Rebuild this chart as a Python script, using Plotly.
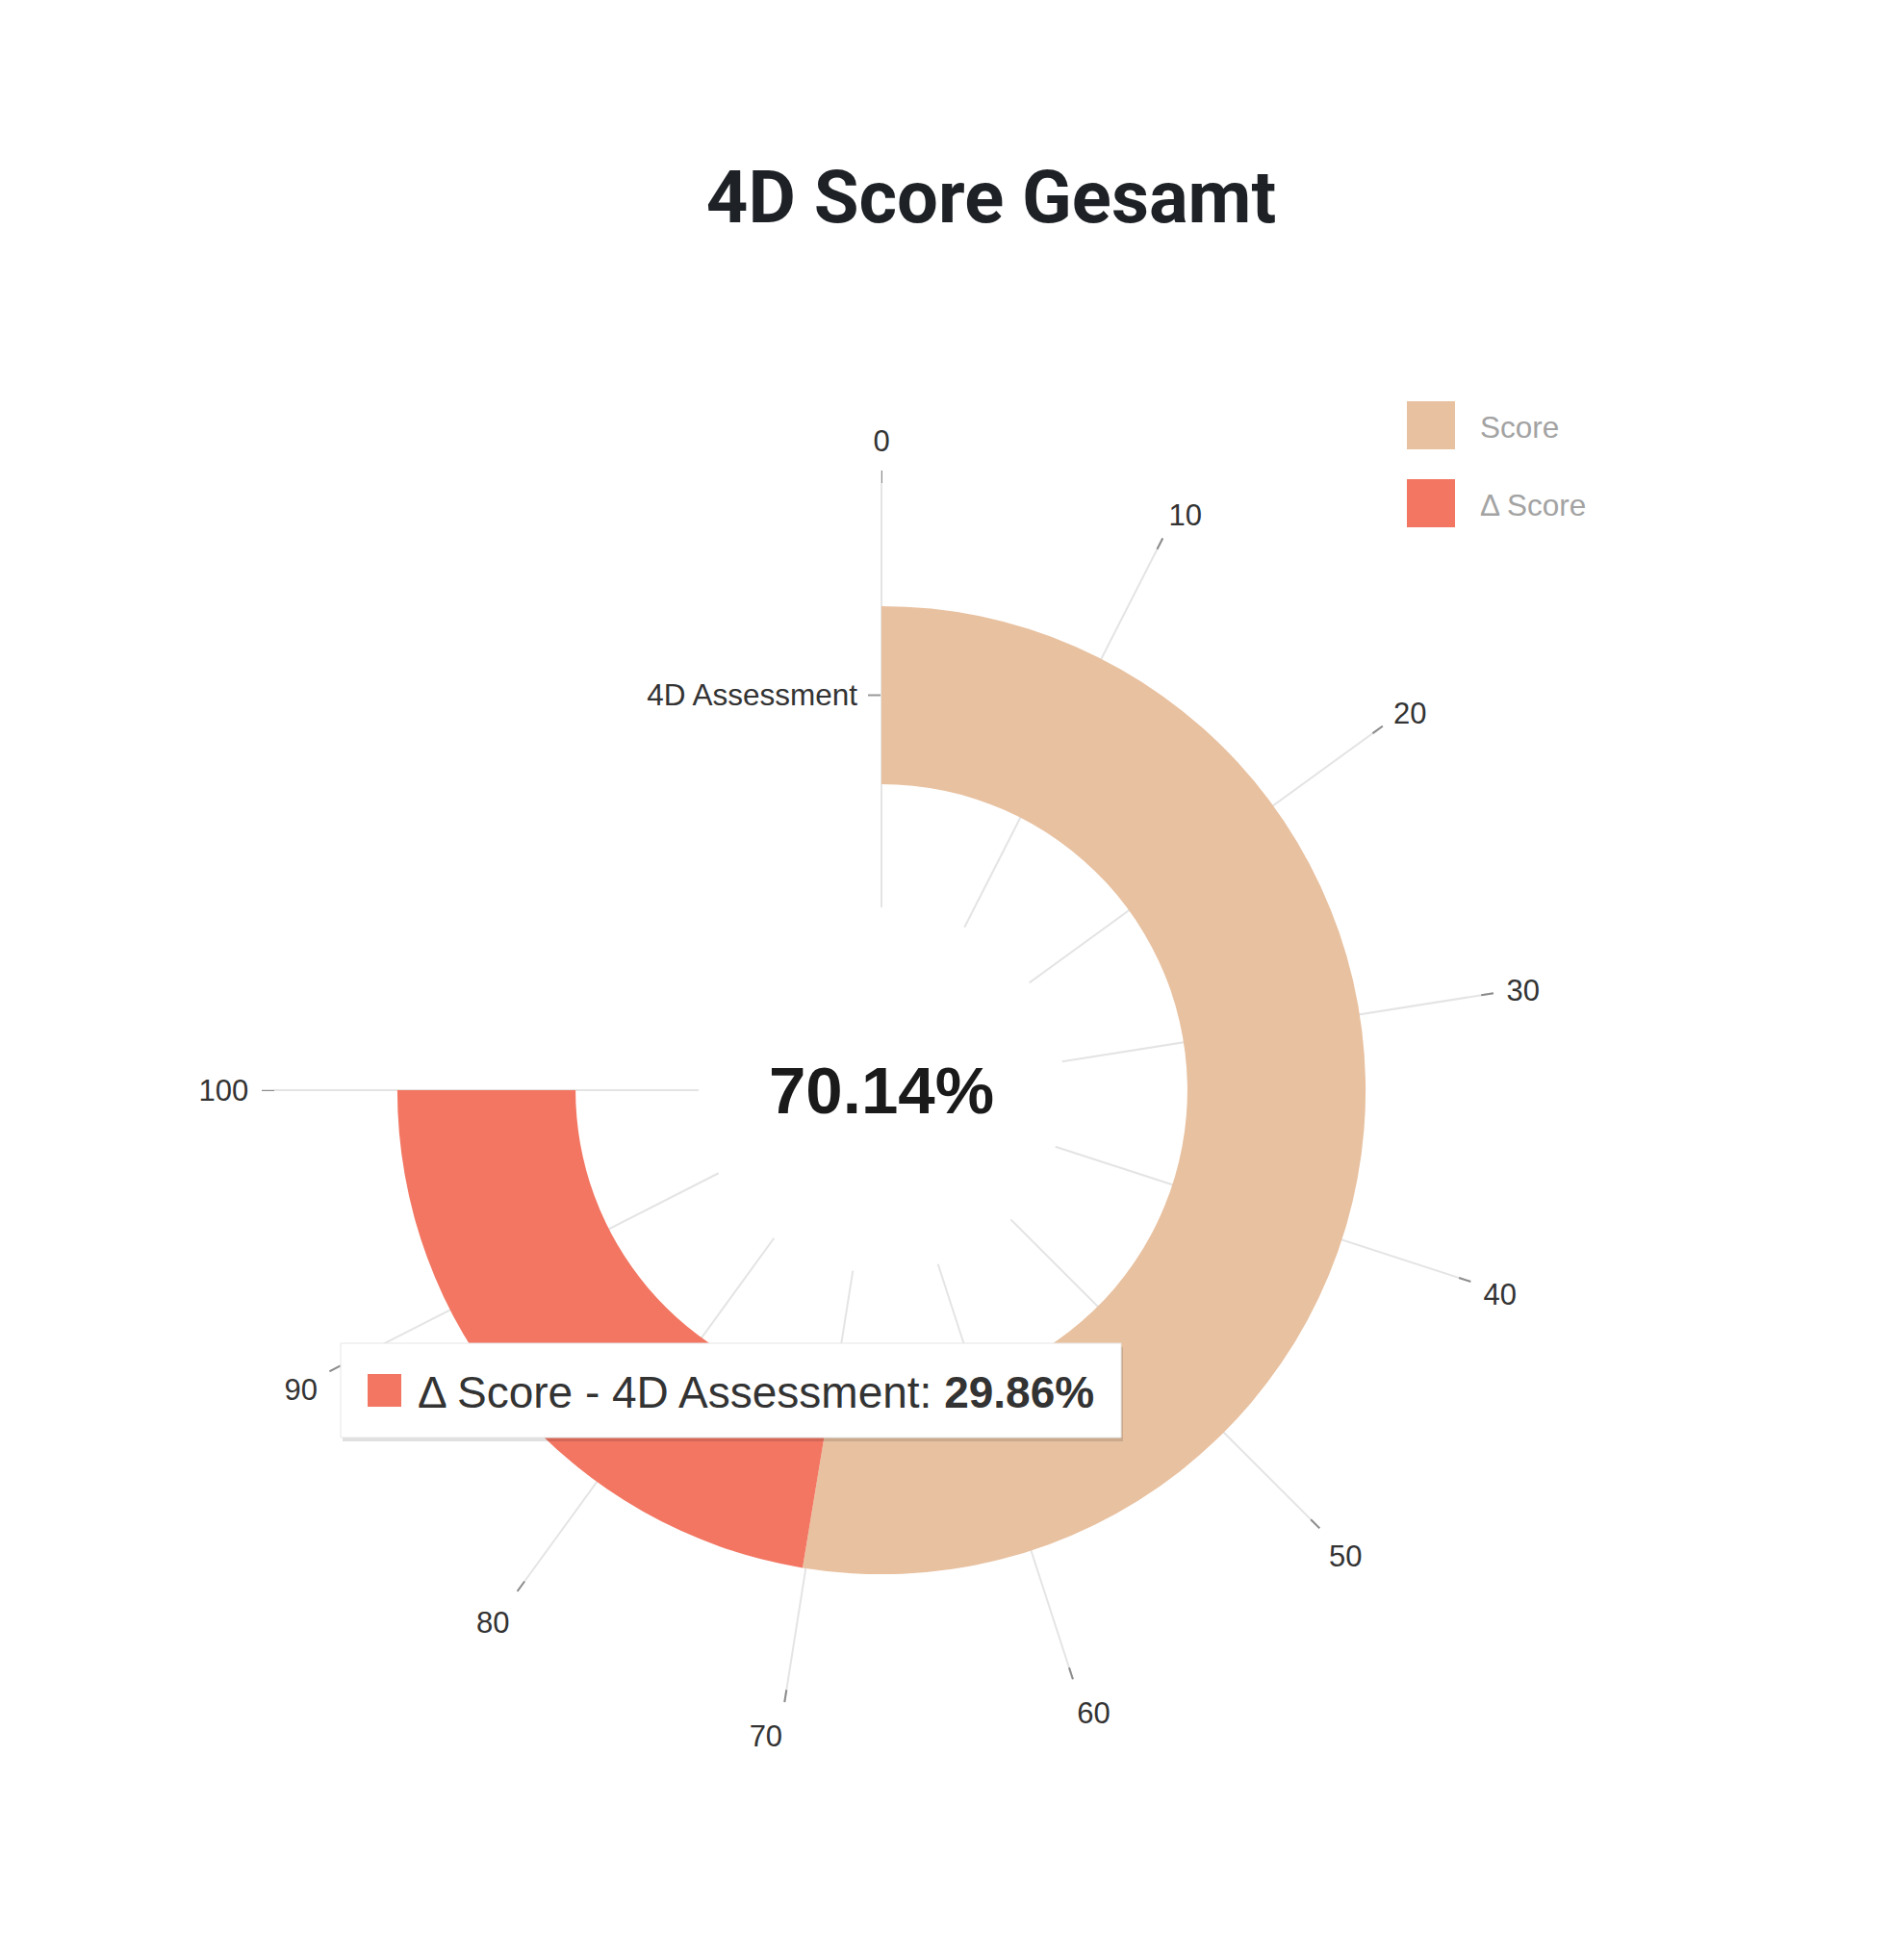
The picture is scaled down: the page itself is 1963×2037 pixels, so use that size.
import plotly.graph_objs as go

# data
categories = ['4D Assessment']
series_names = ['Score', 'Δ Score']
score = [70.14]
delta_score = [29.86]
angle_ticks = [0, 10, 20, 30, 40, 50, 60, 70, 80, 90, 100]

colors = ['#E8C1A0', '#F27662']

W, H = 1963, 2037
DEG = 270 / 100.0   # 100 on the angle axis spans 270 degrees
OX, OY = -7, -7     # small global nudge


def fx(p):
    return (p + OX) / W


def fy(p):
    return 1 - (p + OY) / H


cx, cy = 915, 1132
R = 631          # where the grid lines end
hole_px = 190
tick_px = 13     # dark tick marks beyond the grid
band = R - hole_px
r_max = 1 + float(tick_px) / band
R_out = R + tick_px

fig = go.Figure()

start = [0] * len(categories)
for name, vals, col in zip(series_names, [score, delta_score], colors):
    fig.add_trace(go.Barpolar(
        r=[0.42] * len(vals), base=[0.29] * len(vals),
        theta=[(s + v / 2) * DEG for s, v in zip(start, vals)],
        width=[v * DEG for v in vals],
        name=name, marker=dict(color=col, line=dict(width=0)),
        hoverinfo='skip', showlegend=False))
    start = [s + v for s, v in zip(start, vals)]

# dark tick marks on the outer end of each grid line
tick_r, tick_th = [], []
for t in angle_ticks:
    tick_r += [1.0, r_max, None]
    tick_th += [t * DEG, t * DEG, None]
fig.add_trace(go.Scatterpolar(r=tick_r, theta=tick_th, mode='lines',
                              line=dict(color='#8c8c8c', width=2),
                              hoverinfo='skip', showlegend=False))

fig.update_layout(
    width=W, height=H,
    margin=dict(l=0, r=0, t=0, b=0),
    paper_bgcolor='white',
    font=dict(family='Liberation Sans, Arial', color='#333333'),
    title=dict(text='4D Score Gesamt', x=fx(1029), xanchor='center',
               y=fy(203), yanchor='middle',
               font=dict(family='Roboto', size=76, weight=700, color='#1e2226')),
    polar=dict(
        domain=dict(x=[fx(cx - R_out), fx(cx + R_out)],
                    y=[fy(cy + R_out), fy(cy - R_out)]),
        sector=[-180, 90],
        hole=float(hole_px) / R_out,
        bgcolor='white',
        angularaxis=dict(
            type='linear', thetaunit='degrees',
            rotation=90, direction='clockwise',
            tickmode='array',
            tickvals=[t * DEG for t in angle_ticks],
            ticktext=[str(t) for t in angle_ticks],
            showline=False, showgrid=True, gridcolor='#e4e4e4', gridwidth=2,
            # invisible ticks, only there to push the labels outwards
            ticks='outside', ticklen=7, tickwidth=2, tickcolor='rgba(0,0,0,0)',
            tickfont=dict(size=31, color='#333333'),
            layer='below traces'),
        radialaxis=dict(
            range=[0, r_max], angle=90, side='counterclockwise',
            tickmode='array', tickvals=[0.5], ticktext=categories,
            ticks='outside', ticklen=13, tickwidth=2, tickcolor='#999999',
            tickangle=90,
            showline=True, linecolor='#e4e4e4', linewidth=2,
            showgrid=False,
            tickfont=dict(size=31.5, color='#333333'),
            layer='below traces'),
    ),
)

# value in the middle
fig.add_annotation(x=fx(cx), y=fy(cy), xref='paper', yref='paper',
                   text='<b>%.2f%%</b>' % score[0], showarrow=False,
                   font=dict(size=69, color='#1a1a1a'),
                   xanchor='center', yanchor='middle')

# legend, drawn by hand to get the big squares
leg_y = [441, 522]
for name, col, yy in zip(series_names, colors, leg_y):
    fig.add_shape(type='rect', xref='paper', yref='paper',
                  x0=fx(1461), x1=fx(1511), y0=fy(yy - 25), y1=fy(yy + 25),
                  fillcolor=col, line=dict(width=0))
    fig.add_annotation(x=fx(1535), y=fy(yy + 2), xref='paper', yref='paper',
                       text=name, showarrow=False, xanchor='left', yanchor='middle',
                       font=dict(size=31.5, color='#a3a3a3'))

# tooltip box
bx0, bx1, by0, by1 = 353, 1164, 1395, 1493
fig.add_shape(type='rect', xref='paper', yref='paper',
              x0=fx(bx0 + 2), x1=fx(bx1 + 2), y0=fy(by0 + 4), y1=fy(by1 + 4),
              fillcolor='rgba(0,0,0,0.12)', line=dict(width=0))
fig.add_shape(type='rect', xref='paper', yref='paper',
              x0=fx(bx0), x1=fx(bx1), y0=fy(by0), y1=fy(by1),
              fillcolor='white', line=dict(color='#e6e6e6', width=1))
fig.add_shape(type='rect', xref='paper', yref='paper',
              x0=fx(381), x1=fx(416), y0=fy(1427), y1=fy(1461),
              fillcolor=colors[1], line=dict(width=0))
fig.add_annotation(x=fx(431), y=fy(1446), xref='paper', yref='paper',
                   text='%s - %s: <b>%.2f%%</b>' % (series_names[1], categories[0], delta_score[0]),
                   showarrow=False, xanchor='left', yanchor='middle',
                   font=dict(size=46, color='#333333'))

fig.write_html('out.html')
